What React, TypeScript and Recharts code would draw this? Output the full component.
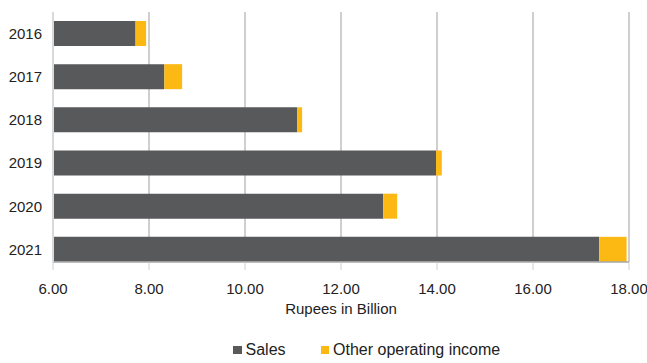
import { BarChart, Bar, XAxis, YAxis, CartesianGrid, Legend } from "recharts";

const years = ["2016", "2017", "2018", "2019", "2020", "2021"];
const sales = [7.72, 8.32, 11.09, 13.98, 12.88, 17.38];
const otherIncome = [0.22, 0.37, 0.1, 0.12, 0.29, 0.57];
const xTicks = [6, 8, 10, 12, 14, 16, 18];

const SERIES = [
    { key: "sales", name: "Sales", color: "#58595b" },
    { key: "other", name: "Other operating income", color: "#fdb913" },
];

const data = years.map((year, i) => ({
    year,
    sales: sales[i],
    other: otherIncome[i],
}));

const FONT = "'Liberation Sans', Arial, Helvetica, sans-serif";

function LegendBox() {
    return (
        <div
            style={{
                display: "flex",
                alignItems: "center",
                paddingLeft: 233,
                height: 24,
                fontFamily: FONT,
                fontSize: 16,
                color: "#222",
            }}
        >
            {SERIES.map((s, i) => (
                <div
                    key={s.key}
                    style={{ display: "flex", alignItems: "center", marginRight: i === 0 ? 35 : 0 }}
                >
                    <span
                        style={{
                            display: "inline-block",
                            width: 8.5,
                            height: 8.5,
                            background: s.color,
                            marginRight: 4,
                        }}
                    />
                    <span>{s.name}</span>
                </div>
            ))}
        </div>
    );
}

export default function App() {
    return (
        <div style={{ position: "absolute", left: 0, top: 0 }}>
            <BarChart
                width={647}
                height={363}
                data={data}
                layout="vertical"
                margin={{ top: 12, right: 18, bottom: 0, left: 0 }}
                barSize={25}
            >
                <CartesianGrid horizontal={false} stroke="#bfbfbf" strokeWidth={1.5} />
                <XAxis
                    type="number"
                    domain={[6, 18]}
                    ticks={xTicks}
                    allowDataOverflow
                    tickFormatter={(v: number) => v.toFixed(2)}
                    tick={{ fill: "#222", fontSize: 15, fontFamily: FONT }}
                    tickSize={8}
                    tickMargin={13}
                    tickLine={{ stroke: "#cfcfcf" }}
                    axisLine={{ stroke: "#a6a6a6", strokeWidth: 1.5 }}
                    height={77}
                    label={{
                        value: "Rupees in Billion",
                        position: "insideTop",
                        offset: 41,
                        fill: "#222",
                        fontSize: 15,
                        fontFamily: FONT,
                    }}
                />
                <YAxis
                    type="category"
                    dataKey="year"
                    width={53}
                    tickLine={false}
                    axisLine={{ stroke: "#d9d9d9", strokeWidth: 2 }}
                    tickMargin={5}
                    padding={{ top: 0, bottom: -9 }}
                    tick={{ fill: "#222", fontSize: 15, fontFamily: FONT }}
                />
                <Legend
                    verticalAlign="bottom"
                    content={() => <LegendBox />}
                    wrapperStyle={{ bottom: 1, left: 0, width: 647 }}
                />
                {SERIES.map((s) => (
                    <Bar
                        key={s.key}
                        dataKey={s.key}
                        name={s.name}
                        stackId="a"
                        fill={s.color}
                        isAnimationActive={false}
                    />
                ))}
            </BarChart>
        </div>
    );
}
